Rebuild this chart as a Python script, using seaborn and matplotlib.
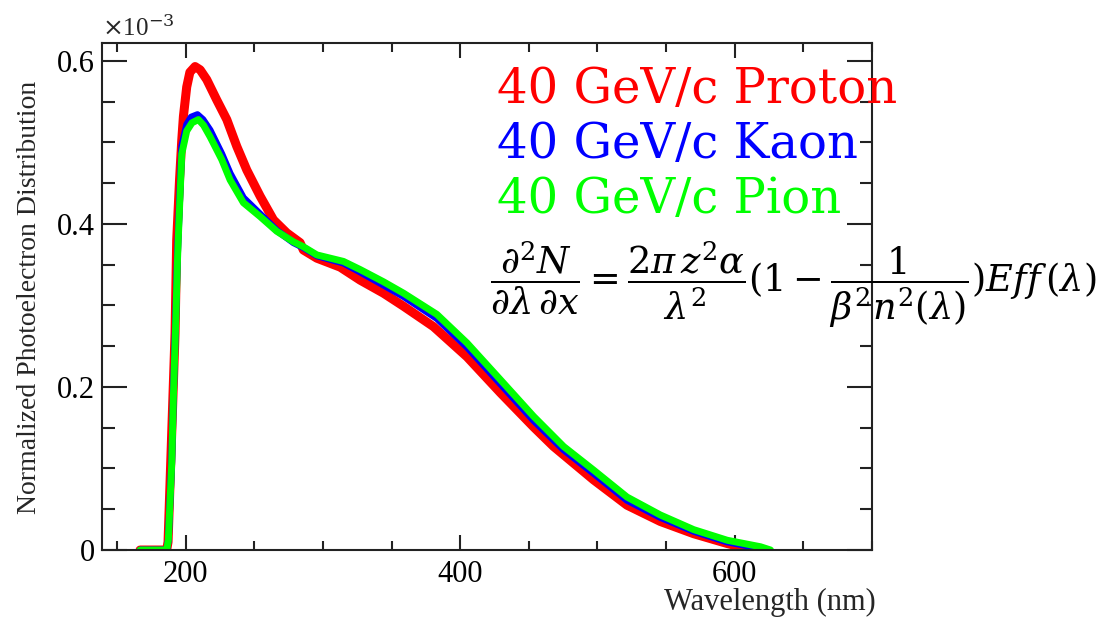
import numpy as np
import pandas as pd
import matplotlib
matplotlib.use("Agg")
import matplotlib.pyplot as plt
import seaborn as sns
from matplotlib.ticker import MultipleLocator, FuncFormatter

# Data (in units of 1e-3)
wl_proton = [166.7, 186.1, 187.1, 189.3, 192.2, 193.4, 195.5, 197.1, 198.3, 200.7,
             203.0, 206.8, 210.5, 215.3, 222.6, 229.9, 237.2, 244.5, 254.2, 263.9,
             273.6, 283.3, 285.7, 295.5, 312.5, 327.1, 344.1, 358.7, 380.5, 404.9,
             429.2, 453.4, 468.0, 497.2, 521.5, 545.8, 570.1, 594.5, 613.9]
val_proton = [0.0, 0.0, 0.010, 0.120, 0.266, 0.380, 0.455, 0.503, 0.532, 0.568,
              0.586, 0.593, 0.589, 0.577, 0.552, 0.528, 0.495, 0.466, 0.434, 0.405,
              0.389, 0.377, 0.368, 0.358, 0.347, 0.331, 0.315, 0.299, 0.274, 0.237,
              0.193, 0.151, 0.127, 0.086, 0.055, 0.035, 0.020, 0.008, 0.0]

wl_kaon = [166.7, 186.1, 187.3, 189.8, 191.0, 192.9, 193.9, 194.6, 197.1, 200.7,
           204.0, 208.5, 212.5, 217.7, 226.2, 232.3, 242.0, 254.2, 266.3, 278.5,
           285.7, 295.5, 314.9, 327.1, 344.1, 358.7, 383.0, 404.9, 429.2, 453.4,
           475.3, 497.2, 521.5, 545.8, 570.1, 594.5, 618.8, 622.0]
val_kaon = [0.0, 0.0, 0.012, 0.110, 0.190, 0.300, 0.360, 0.390, 0.495, 0.522,
            0.531, 0.534, 0.528, 0.515, 0.486, 0.462, 0.432, 0.412, 0.392, 0.377,
            0.371, 0.361, 0.352, 0.341, 0.325, 0.311, 0.284, 0.249, 0.204, 0.159,
            0.123, 0.094, 0.061, 0.040, 0.023, 0.010, 0.002, 0.0]

wl_pion = [166.7, 186.1, 187.3, 189.8, 191.0, 192.9, 193.9, 194.6, 197.1, 200.7,
           204.5, 209.2, 213.0, 217.7, 226.2, 232.3, 242.0, 254.2, 266.3, 278.5,
           285.7, 295.5, 314.9, 327.1, 344.1, 358.7, 383.0, 404.9, 429.2, 453.4,
           475.3, 497.2, 521.5, 545.8, 570.1, 594.5, 618.8, 626.1]
val_pion = [0.0, 0.0, 0.012, 0.107, 0.188, 0.291, 0.352, 0.384, 0.486, 0.514,
            0.524, 0.528, 0.521, 0.507, 0.479, 0.454, 0.426, 0.409, 0.391, 0.378,
            0.372, 0.362, 0.354, 0.344, 0.329, 0.315, 0.289, 0.254, 0.209, 0.164,
            0.127, 0.098, 0.065, 0.043, 0.025, 0.012, 0.004, 0.0]

labels = ["40 GeV/c Proton", "40 GeV/c Kaon", "40 GeV/c Pion"]
colors = ["#ff0000", "#0000ff", "#00ff00"]

frames = []
for lab, wl, val in zip(labels, [wl_proton, wl_kaon, wl_pion],
                        [val_proton, val_kaon, val_pion]):
    frames.append(pd.DataFrame({"wl": wl, "val": val, "particle": lab}))
df = pd.concat(frames, ignore_index=True)

sns.set_style("ticks")
plt.rcParams["mathtext.fontset"] = "dejavuserif"

fig = plt.figure(figsize=(10.96, 6.18), dpi=100)
ax = fig.add_axes([0.0931, 0.110, 0.7025, 0.8212])

for lab, col, lw in zip(labels, colors, [6.5, 5, 5]):
    sns.lineplot(data=df[df.particle == lab], x="wl", y="val", color=col,
                 linewidth=lw, sort=False, estimator=None, ax=ax, legend=False,
                 solid_joinstyle="round")

ax.set_xlim(139, 700)
ax.set_ylim(0, 0.6225)
ax.xaxis.set_major_locator(MultipleLocator(200))
ax.xaxis.set_minor_locator(MultipleLocator(50))
ax.yaxis.set_major_locator(MultipleLocator(0.2))
ax.yaxis.set_minor_locator(MultipleLocator(0.05))
ax.yaxis.set_major_formatter(FuncFormatter(lambda v, p: f"{v:g}"))

for s in ax.spines.values():
    s.set_linewidth(1.5)
    s.set_color("#222222")
    s.set_visible(True)
ax.tick_params(axis="both", which="both", direction="in", top=True, right=True,
               width=1.5, colors="#222222", labelcolor="black")
ax.tick_params(axis="y", which="major", length=18)
ax.tick_params(axis="y", which="minor", length=9)
ax.tick_params(axis="x", which="major", length=11)
ax.tick_params(axis="x", which="minor", length=6.5)
for t in ax.get_xticklabels() + ax.get_yticklabels():
    t.set_family("Liberation Serif")
    t.set_fontsize(22)
ax.tick_params(axis="x", pad=7)
ax.tick_params(axis="y", pad=5)

ax.set_xlabel("")
ax.set_ylabel("")
fig.text(876 / 1096, 1 - 602 / 618, "Wavelength (nm)", ha="right", va="center",
         family="Liberation Serif", fontsize=22)
fig.text(30 / 1096, 1 - 297 / 618, "Normalized Photoelectron Distribution",
         rotation=90, ha="center", va="center", family="Liberation Serif",
         fontsize=20)
fig.text(102 / 1096, 1 - 28 / 618, r"$\times$10$^{-3}$", ha="left", va="center",
         family="Liberation Serif", fontsize=18)

ys = [103, 158, 213]
for lab, col, y in zip(labels, colors, ys):
    fig.text(497 / 1096, 1 - y / 618, lab, color=col, family="DejaVu Serif",
             fontsize=34.7, ha="left", va="baseline")

formula = (r"$\dfrac{\partial^2 N}{\partial\lambda\,\partial x}"
           r"=\dfrac{2\pi\, z^2\alpha}{\lambda^2}"
           r"(1-\dfrac{1}{\beta^2 n^2(\lambda)})Eff\,(\lambda)$")
fig.text(490 / 1096, 1 - 285 / 618, formula, ha="left", va="center",
         fontsize=26.5, color="black")

plt.savefig("out.png", dpi=100)
plt.close()
